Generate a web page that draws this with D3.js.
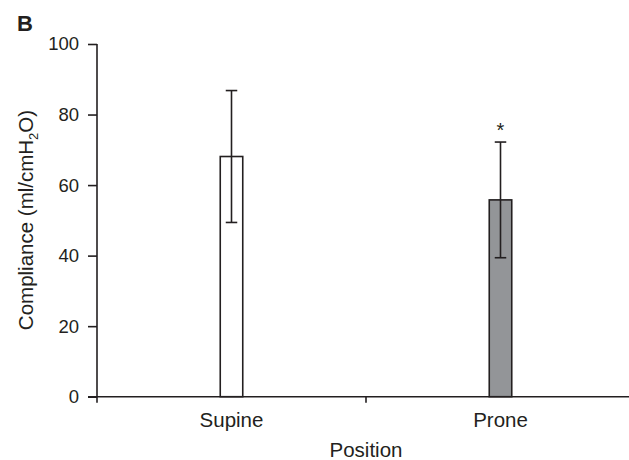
<!DOCTYPE html>
<html>
<head>
<meta charset="utf-8">
<script src="https://cdn.jsdelivr.net/npm/d3@7"></script>
<style>
  body { margin: 0; background: #fff; }
  text { font-family: "Liberation Sans", Arial, sans-serif; fill: #231f20; }
</style>
</head>
<body>
<div id="vis"></div>
<script>
// data
const positions = ["Supine", "Prone"];
const means = [68.1, 55.8];
const sds = [18.7, 16.4];
const fills = ["#ffffff", "#939598"];
const significant = [false, true];
const yTicks = [0, 20, 40, 60, 80, 100];

const W = 629, H = 460;
const margin = { top: 44, right: 0, bottom: 63, left: 97 };
const width = 538;
const height = 396.7 - margin.top;
const ink = "#231f20";

const svg = d3.select("#vis")
    .append("svg")
    .attr("width", W)
    .attr("height", H);

const g = svg.append("g")
    .attr("transform", `translate(${margin.left},${margin.top})`);

const xScale = d3.scaleBand()
    .domain(positions)
    .range([0, width]);

const yScale = d3.scaleLinear()
    .domain([0, 100])
    .range([height, 0]);

const barW = 22.5;

// y axis
const yAxis = g.append("g")
    .call(d3.axisLeft(yScale).tickValues(yTicks).tickSize(9).tickPadding(9));
yAxis.select(".domain").attr("d", `M0,0V${height + 6}`);
yAxis.selectAll("line, path").attr("stroke", ink).attr("stroke-width", 1.6);
yAxis.selectAll("text").style("font-size", "18.5px").attr("fill", ink);

// x axis: ticks on category boundaries
const xAxis = g.append("g").attr("transform", `translate(0,${height})`);
xAxis.append("line")
    .attr("x1", -9).attr("x2", W)
    .attr("stroke", ink).attr("stroke-width", 1.6);
xAxis.selectAll(".bound")
    .data(positions.slice(1))
    .enter()
    .append("line")
    .attr("x1", d => xScale(d))
    .attr("x2", d => xScale(d))
    .attr("y1", 0).attr("y2", 6)
    .attr("stroke", ink).attr("stroke-width", 1.6);
xAxis.selectAll(".cat")
    .data(positions)
    .enter()
    .append("text")
    .attr("x", d => xScale(d) + xScale.bandwidth() / 2)
    .attr("y", 30.5)
    .attr("text-anchor", "middle")
    .style("font-size", "20.5px")
    .text(d => d);

// bars
g.selectAll(".bar")
    .data(positions)
    .enter()
    .append("rect")
    .attr("class", "bar")
    .attr("x", d => xScale(d) + xScale.bandwidth() / 2 - barW / 2)
    .attr("y", (d, i) => yScale(means[i]))
    .attr("width", barW)
    .attr("height", (d, i) => height - yScale(means[i]))
    .attr("fill", (d, i) => fills[i])
    .attr("stroke", ink)
    .attr("stroke-width", 1.6);

// error bars
const capW = 11.5;
const err = g.selectAll(".err")
    .data(positions)
    .enter()
    .append("g")
    .attr("class", "err")
    .attr("transform", d => `translate(${xScale(d) + xScale.bandwidth() / 2},0)`);
err.append("line")
    .attr("y1", (d, i) => yScale(means[i] + sds[i]))
    .attr("y2", (d, i) => yScale(means[i] - sds[i]))
    .attr("stroke", ink).attr("stroke-width", 1.6);
err.append("line")
    .attr("x1", -capW / 2).attr("x2", capW / 2)
    .attr("y1", (d, i) => yScale(means[i] + sds[i]))
    .attr("y2", (d, i) => yScale(means[i] + sds[i]))
    .attr("stroke", ink).attr("stroke-width", 1.6);
err.append("line")
    .attr("x1", -capW / 2).attr("x2", capW / 2)
    .attr("y1", (d, i) => yScale(means[i] - sds[i]))
    .attr("y2", (d, i) => yScale(means[i] - sds[i]))
    .attr("stroke", ink).attr("stroke-width", 1.6);
err.filter((d, i) => significant[i])
    .append("text")
    .attr("y", d => {
        const i = positions.indexOf(d);
        return yScale(means[i] + sds[i]) - 5;
    })
    .attr("text-anchor", "middle")
    .style("font-size", "20px")
    .text("*");

// axis titles
svg.append("text")
    .attr("x", margin.left + xScale("Prone"))
    .attr("y", 457)
    .attr("text-anchor", "middle")
    .style("font-size", "20.5px")
    .text("Position");

const yTitle = svg.append("text")
    .attr("transform", "translate(33,220) rotate(-90)")
    .attr("text-anchor", "middle")
    .style("font-size", "20.5px");
yTitle.append("tspan").text("Compliance (ml/cmH");
yTitle.append("tspan").attr("dy", 5).style("font-size", "13px").text("2");
yTitle.append("tspan").attr("dy", -5).text("O)");

svg.append("text")
    .attr("x", 17)
    .attr("y", 31)
    .style("font-size", "22px")
    .style("font-weight", "bold")
    .text("B");
</script>
</body>
</html>
